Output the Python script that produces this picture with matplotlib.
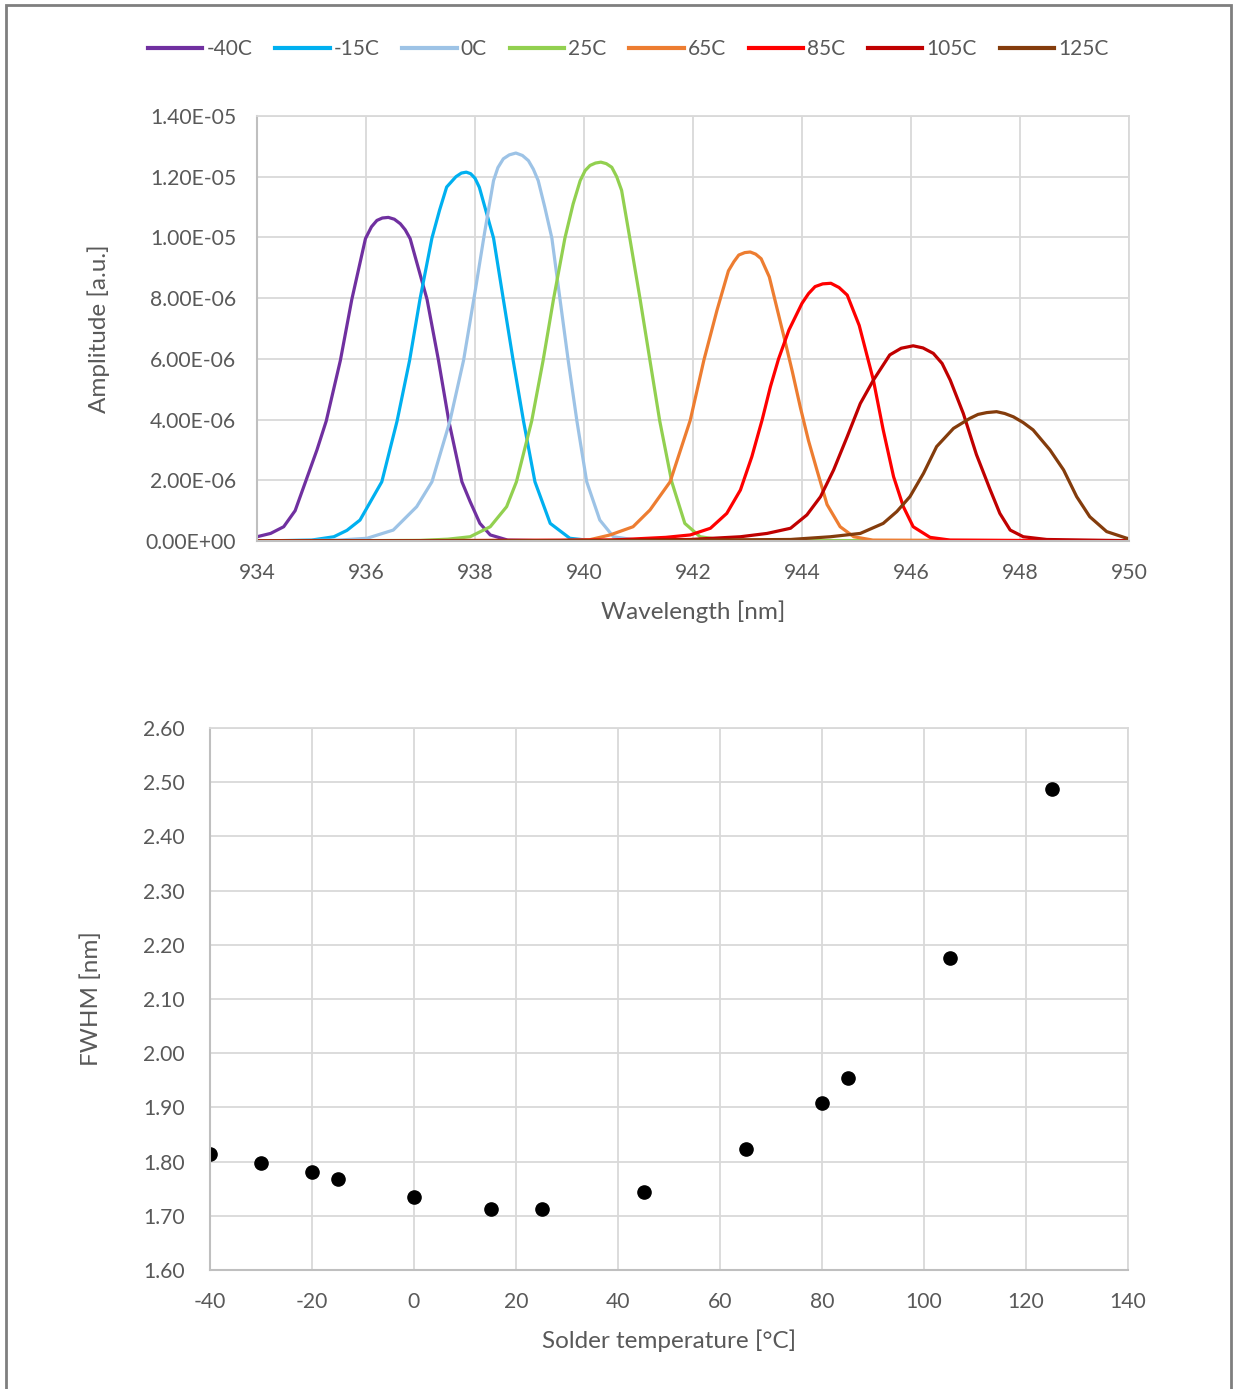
import matplotlib.pyplot as plt
from matplotlib.patches import Rectangle
from matplotlib.ticker import FormatStrFormatter, FuncFormatter

plt.rcParams['font.family'] = ['Lato', 'DejaVu Sans']
plt.rcParams['axes.unicode_minus'] = False

# spectra: wavelength [nm], amplitude [1e-6 a.u.]
wl_m40 = [934.0, 934.25, 934.49, 934.7, 934.89, 935.1, 935.27, 935.53, 935.74, 935.99, 936.1,
          936.2, 936.3, 936.41, 936.52, 936.63, 936.72, 936.81, 937.12, 937.33, 937.52, 937.76,
          937.91, 938.09, 938.28, 938.6, 939.5, 950.0]
amp_m40 = [0.14, 0.25, 0.47, 1.0, 1.95, 3.0, 3.95, 5.95, 7.96, 9.96, 10.35,
           10.56, 10.64, 10.66, 10.6, 10.45, 10.25, 9.96, 7.96, 5.95, 3.95, 1.95,
           1.3, 0.58, 0.2, 0.03, 0.0, 0.0]

wl_m15 = [934.0, 935.0, 935.41, 935.65, 935.89, 936.29, 936.57, 936.8, 936.99, 937.21, 937.35,
          937.48, 937.65, 937.75, 937.84, 937.92, 938.0, 938.08, 938.15, 938.34, 938.52, 938.7,
          938.89, 939.1, 939.38, 939.74, 940.2, 950.0]
amp_m15 = [0.0, 0.03, 0.14, 0.35, 0.69, 1.95, 3.95, 5.95, 7.96, 9.98, 10.9,
           11.66, 12.0, 12.12, 12.15, 12.1, 11.95, 11.65, 11.2, 9.98, 7.96, 5.95,
           3.95, 1.95, 0.58, 0.09, 0.0, 0.0]

wl_0 = [934.0, 935.5, 936.02, 936.5, 936.93, 937.21, 937.54, 937.79, 938.0, 938.18, 938.34,
        938.42, 938.52, 938.63, 938.75, 938.87, 938.98, 939.07, 939.16, 939.28, 939.41, 939.56,
        939.71, 939.87, 940.05, 940.29, 940.54, 941.0, 950.0]
amp_0 = [0.0, 0.03, 0.09, 0.36, 1.13, 1.95, 3.95, 5.95, 8.2, 10.2, 11.87,
         12.3, 12.59, 12.72, 12.78, 12.7, 12.53, 12.25, 11.87, 11.0, 9.98, 7.96,
         5.95, 3.95, 1.95, 0.69, 0.14, 0.02, 0.0]

wl_25 = [934.0, 937.0, 937.5, 937.91, 938.28, 938.58, 938.76, 939.04, 939.25, 939.44, 939.65,
         939.8, 939.93, 940.02, 940.11, 940.21, 940.31, 940.41, 940.51, 940.6, 940.69, 940.84,
         941.03, 941.21, 941.39, 941.61, 941.85, 942.13, 942.6, 950.0]
amp_25 = [0.0, 0.02, 0.06, 0.14, 0.47, 1.13, 1.95, 3.95, 5.95, 7.96, 9.98,
          11.1, 11.87, 12.2, 12.37, 12.45, 12.48, 12.43, 12.31, 12.0, 11.55, 9.98,
          7.96, 5.95, 3.95, 1.95, 0.58, 0.14, 0.02, 0.0]

wl_65 = [934.0, 939.5, 940.1, 940.48, 940.9, 941.21, 941.58, 941.95, 942.2, 942.44, 942.65,
         942.75, 942.84, 942.95, 943.05, 943.15, 943.25, 943.4, 943.55, 943.7, 943.82, 943.97,
         944.12, 944.28, 944.46, 944.7, 944.95, 945.3, 950.0]
amp_65 = [0.0, 0.01, 0.04, 0.2, 0.47, 1.02, 1.95, 3.98, 5.96, 7.6, 8.9,
          9.2, 9.42, 9.5, 9.52, 9.45, 9.3, 8.7, 7.6, 6.5, 5.6, 4.4,
          3.3, 2.3, 1.2, 0.47, 0.14, 0.03, 0.0]

wl_85 = [934.0, 940.5, 941.5, 941.95, 942.32, 942.62, 942.87, 943.08, 943.27, 943.42, 943.57,
         943.76, 944.0, 944.12, 944.24, 944.38, 944.53, 944.68, 944.83, 945.05, 945.31, 945.49,
         945.68, 945.86, 946.04, 946.35, 946.72, 950.0]
amp_85 = [0.0, 0.03, 0.12, 0.2, 0.42, 0.91, 1.68, 2.78, 4.0, 5.08, 6.0,
          6.95, 7.83, 8.15, 8.38, 8.47, 8.49, 8.35, 8.1, 7.1, 5.3, 3.66,
          2.12, 1.13, 0.47, 0.12, 0.03, 0.0]

wl_105 = [934.0, 940.0, 941.95, 942.87, 943.36, 943.79, 944.09, 944.34, 944.58, 944.83, 945.07,
          945.31, 945.61, 945.82, 946.04, 946.22, 946.41, 946.57, 946.72, 946.96, 947.2, 947.45,
          947.63, 947.82, 948.06, 948.49, 950.0]
amp_105 = [0.0, 0.02, 0.05, 0.14, 0.25, 0.42, 0.86, 1.46, 2.34, 3.44, 4.53,
           5.3, 6.13, 6.35, 6.43, 6.36, 6.18, 5.85, 5.3, 4.2, 2.85, 1.7,
           0.91, 0.36, 0.14, 0.05, 0.01]

wl_125 = [934.0, 940.0, 942.0, 943.79, 944.52, 945.07, 945.49, 945.74, 945.98, 946.23, 946.47,
          946.78, 947.08, 947.23, 947.39, 947.57, 947.72, 947.88, 948.06, 948.24, 948.55, 948.8,
          949.04, 949.28, 949.59, 949.96, 950.0]
amp_125 = [0.0, 0.01, 0.03, 0.05, 0.14, 0.25, 0.58, 0.97, 1.46, 2.23, 3.11,
           3.71, 4.04, 4.17, 4.23, 4.26, 4.2, 4.09, 3.9, 3.66, 3.0, 2.34,
           1.46, 0.8, 0.31, 0.09, 0.08]

labels = ['-40C', '-15C', '0C', '25C', '65C', '85C', '105C', '125C']
colors = ['#7030A0', '#00B0F0', '#9DC3E6', '#92D050', '#ED7D31', '#FF0000', '#C00000', '#843C0C']
wavelengths = [wl_m40, wl_m15, wl_0, wl_25, wl_65, wl_85, wl_105, wl_125]
amplitudes = [amp_m40, amp_m15, amp_0, amp_25, amp_65, amp_85, amp_105, amp_125]

# FWHM vs solder temperature
temp = [-40, -30, -20, -15, 0, 15, 25, 45, 65, 80, 85, 105, 125]
fwhm = [1.814, 1.797, 1.781, 1.768, 1.735, 1.713, 1.713, 1.744, 1.823, 1.908, 1.954, 2.176, 2.487]

grid_c = '#d9d9d9'
axis_c = '#bfbfbf'
text_c = '#595959'

fig = plt.figure(figsize=(12.37, 13.89), dpi=100)
fig.patches.append(Rectangle((6 / 1237, -0.01), 1225 / 1237, 1.0 - 5 / 1389 + 0.01,
                             transform=fig.transFigure, fill=False,
                             edgecolor='#7f7f7f', linewidth=2))


def style(ax):
    ax.grid(True, color=grid_c, linewidth=1.3)
    ax.set_axisbelow(True)
    for s in ['top', 'right']:
        ax.spines[s].set_color(grid_c)
        ax.spines[s].set_linewidth(1.3)
    for s in ['left', 'bottom']:
        ax.spines[s].set_color(axis_c)
        ax.spines[s].set_linewidth(1.5)
    ax.tick_params(length=0, labelsize=15.2, labelcolor=text_c)
    ax.tick_params(axis='y', pad=15)
    ax.tick_params(axis='x', pad=16)


# top: spectra
ax1 = fig.add_axes([257 / 1237, 1 - 541 / 1389, 872 / 1237, 425 / 1389])
for wl, amp, lab, col in zip(wavelengths, amplitudes, labels, colors):
    ax1.plot(wl, [a * 1e-6 for a in amp], color=col, linewidth=2.3, label=lab,
             solid_joinstyle='round')
ax1.set_xlim(934, 950)
ax1.set_ylim(0, 1.4e-5)
ax1.set_xticks(range(934, 951, 2))
ax1.set_yticks([i * 2e-6 for i in range(8)])
ax1.yaxis.set_major_formatter(FuncFormatter(lambda v, p: '%.2E' % v))
style(ax1)
ax1.set_xlabel('Wavelength [nm]', fontsize=17.5, color=text_c, labelpad=12)
ax1.set_ylabel('Amplitude [a.u.]', fontsize=17.5, color=text_c, labelpad=26)

fig.legend(loc='center', bbox_to_anchor=(0.508, 1 - 49 / 1389), ncol=8, frameon=False,
           fontsize=15, labelcolor=text_c, handlelength=2.6, handletextpad=0.2,
           columnspacing=1.1)
for h in fig.legends[0].get_lines():
    h.set_linewidth(3)

# bottom: FWHM
ax2 = fig.add_axes([210 / 1237, 1 - 1270 / 1389, 918 / 1237, 542 / 1389])
ax2.plot(temp, fwhm, 'o', color='black', markersize=9.5)
ax2.set_xlim(-40, 140)
ax2.set_ylim(1.6, 2.6)
ax2.set_xticks(range(-40, 141, 20))
ax2.set_yticks([1.6 + i * 0.1 for i in range(11)])
ax2.yaxis.set_major_formatter(FormatStrFormatter('%.2f'))
style(ax2)
ax2.tick_params(axis='y', pad=18)
ax2.set_xlabel('Solder temperature [°C]', fontsize=17.5, color=text_c, labelpad=12)
ax2.set_ylabel('FWHM [nm]', fontsize=17.5, color=text_c, labelpad=30)

fig.savefig('out.png', dpi=100)
